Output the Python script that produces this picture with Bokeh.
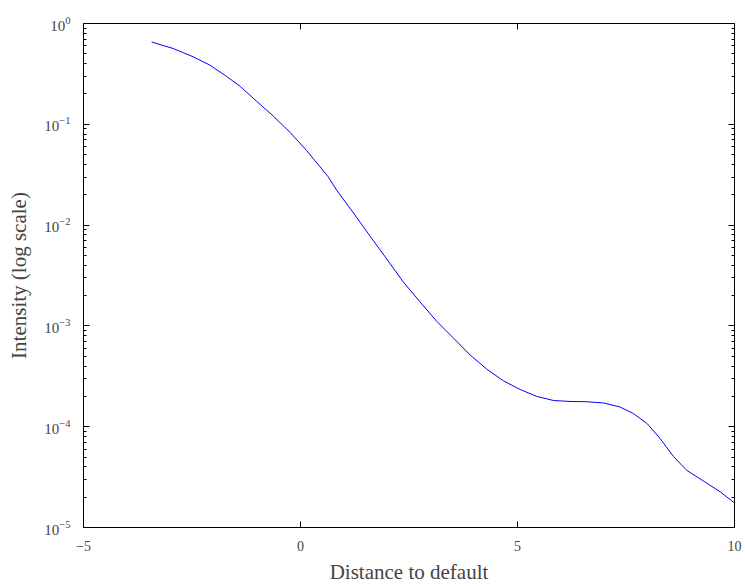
from bokeh.plotting import figure
from bokeh.models import FixedTicker, LogTickFormatter, LinearAxis, LogAxis, ColumnDataSource
from bokeh.embed import file_html
from bokeh.resources import INLINE

# Data (distance to default vs intensity)
distance = [-3.43, -2.93, -2.47, -2.09, -1.70, -1.39, -1.01, -0.63, -0.24, 0.14,
            0.64, 0.83, 1.22, 1.60, 1.99, 2.37, 2.75, 3.14, 3.52, 3.91,
            4.29, 4.67, 5.06, 5.44, 5.83, 6.21, 6.59, 6.98, 7.36, 7.67,
            7.98, 8.28, 8.59, 8.90, 9.28, 9.67, 10.0]
intensity = [0.655, 0.564, 0.467, 0.387, 0.298, 0.238, 0.169, 0.121, 0.0832, 0.0550,
             0.0301, 0.0223, 0.0132, 0.00780, 0.00460, 0.00272, 0.00174, 0.00111, 0.000760, 0.000514,
             0.000373, 0.000286, 0.000234, 0.000200, 0.000182, 0.000178, 0.000177, 0.000172, 0.000157, 0.000135,
             0.000108, 0.0000769, 0.0000508, 0.0000369, 0.0000290, 0.0000226, 0.0000175]

x_ticks = [-5, 0, 5, 10]
y_ticks = [1e-5, 1e-4, 1e-3, 1e-2, 1e-1, 1e0]
y_minor = [m * 10.0 ** e for e in range(-5, 0) for m in range(2, 10)]

x_label = "Distance to default"
y_label = "Intensity (log scale)"

FONT = "Liberation Serif"

src = ColumnDataSource(dict(x=distance, y=intensity))

p = figure(width=745, height=586, y_axis_type="log",
           x_range=(-5, 10), y_range=(1e-5, 1),
           output_backend="svg", toolbar_location=None,
           min_border_left=83, min_border_right=11, min_border_top=23, min_border_bottom=52)
p.line("x", "y", source=src, line_color="#0000ff", line_width=1)

p.grid.visible = False
p.outline_line_color = "black"
p.outline_line_width = 1
p.background_fill_color = "white"
p.border_fill_color = "white"

xt = FixedTicker(ticks=x_ticks)
yt = FixedTicker(ticks=y_ticks, minor_ticks=y_minor)


def style(ax, labels=True):
    ax.axis_line_color = "black"
    ax.major_tick_in = 6
    ax.major_tick_out = 0
    ax.minor_tick_in = 3
    ax.minor_tick_out = 0
    ax.major_tick_line_color = "black"
    ax.minor_tick_line_color = "black"
    if not labels:
        ax.major_label_text_color = None
        ax.major_label_text_font_size = "1px"


xa = p.xaxis[0]
xa.ticker = xt
style(xa)
xa.minor_tick_line_color = None
xa.major_label_text_font = FONT
xa.major_label_text_font_size = "14px"
xa.major_label_standoff = 13
xa.axis_label = x_label
xa.axis_label_text_font = FONT
xa.axis_label_text_font_style = "normal"
xa.axis_label_text_font_size = "21px"
xa.axis_label_standoff = 6

ya = p.yaxis[0]
ya.ticker = yt
ya.formatter = LogTickFormatter()
style(ya)
ya.major_label_text_font = FONT
ya.major_label_text_font_size = "15px"
ya.major_label_standoff = 13
ya.axis_label = y_label
ya.axis_label_text_font = FONT
ya.axis_label_text_font_style = "normal"
ya.axis_label_text_font_size = "21px"
ya.axis_label_standoff = 10

top = LinearAxis(ticker=FixedTicker(ticks=x_ticks))
style(top, labels=False)
top.minor_tick_line_color = None
p.add_layout(top, "above")

right = LogAxis(ticker=FixedTicker(ticks=y_ticks, minor_ticks=y_minor))
style(right, labels=False)
p.add_layout(right, "right")

open("out.html", "w").write(file_html(p, INLINE))
